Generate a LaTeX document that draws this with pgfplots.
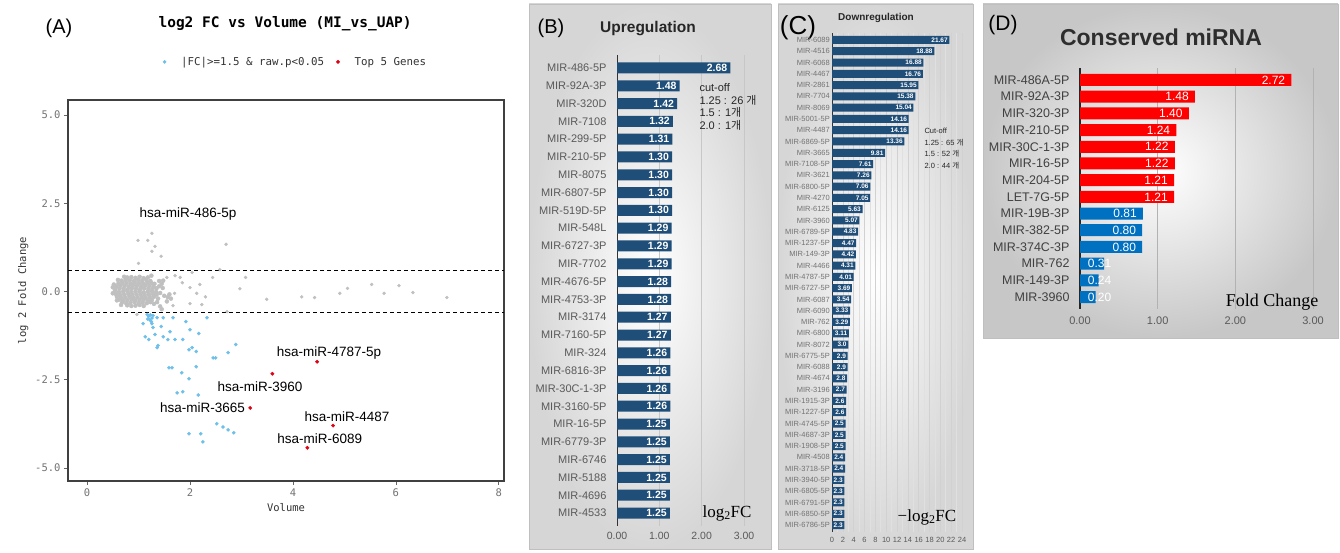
\documentclass[border=0pt]{standalone}
\usepackage{pgfplots}
\pgfplotsset{compat=1.18}
\usepackage{fontspec}
\setmainfont{Liberation Sans}
\newfontfamily\mono{DejaVu Sans Mono}
\newfontfamily\serifr{Liberation Serif}
\newfontfamily\kr{Noto Sans CJK KR}
\newcommand{\fs}[1]{\fontsize{#1}{#1}\selectfont}
\definecolor{ptgray}{RGB}{192,192,192}
\definecolor{ptblue}{RGB}{110,192,235}
\definecolor{ptred}{RGB}{225,0,20}
\definecolor{barblue}{RGB}{31,78,121}
\definecolor{dred}{RGB}{255,0,0}
\definecolor{dblue}{RGB}{0,112,192}
\definecolor{lab}{RGB}{89,89,89}
\begin{document}
\begin{tikzpicture}[x=1pt,y=1pt]
\useasboundingbox (0,0) rectangle (1340,553);
\fill[white] (0,0) rectangle (1340,553);
% panel backgrounds
\shade[inner color=white,outer color=black!16] (529,4) rectangle (771,549);
\draw[black!25] (529,4) rectangle (771,549);
\shade[inner color=white,outer color=black!16] (778,4) rectangle (973,549);
\draw[black!25] (778,4) rectangle (973,549);
\shade[inner color=white,outer color=black!22] (983,215) rectangle (1338,549);
\draw[black!25] (983,215) rectangle (1338,549);

% ================= Panel A =================
\node[font=\fs{20}] at (59,525) {(A)};
\begin{axis}[
  at={(68pt,72pt)}, anchor=south west, scale only axis,
  width=436pt, height=381pt,
  xmin=-0.37, xmax=8.1, ymin=-5.37, ymax=5.43,
  xtick={0,2,4,6,8}, xticklabels={0,2,4,6,8},
  ytick={-5,-2.5,0,2.5,5}, yticklabels={-5.0,-2.5,0.0,2.5,5.0},
  tick pos=left, tick align=outside, major tick length=4pt,
  tick style={black!60, line width=0.8pt},
  axis line style={black!75, line width=1.3pt},
  tick label style={font=\mono\fs{10.5}, text=black!55},
  xlabel={Volume}, ylabel={log 2 Fold Change},
  label style={font=\mono\fs{10.5}, text=black!80},
  title={log2 FC vs Volume (MI\_vs\_UAP)},
  title style={at={(0.498,1.184)}, anchor=center, font=\mono\bfseries\fs{14.5}},
  legend columns=2,
  legend style={at={(0.522,1.10)}, anchor=center, draw=none, fill=none,
    font=\mono\fs{10.8}, text=black!80,
    /tikz/every odd column/.append style={column sep=13pt},
    /tikz/every even column/.append style={column sep=10pt}},
  clip=false,
]
\addplot[only marks, mark=*, mark size=2pt, color=ptgray, mark options={draw=none,fill=ptgray}, forget plot] coordinates {
(0.78,0.40)(0.86,0.41)(0.94,0.39)(1.02,0.42)(1.10,0.38)
(0.67,0.31)(0.75,0.33)(0.83,0.32)(0.91,0.30)(0.99,0.33)(1.07,0.31)(1.15,0.33)(1.23,0.30)
(0.61,0.23)(0.69,0.25)(0.77,0.24)(0.85,0.22)(0.93,0.25)(1.01,0.24)(1.09,0.23)(1.17,0.25)(1.25,0.24)(1.31,0.22)
(0.57,0.15)(0.65,0.17)(0.73,0.16)(0.81,0.14)(0.89,0.17)(0.97,0.16)(1.05,0.15)(1.13,0.17)(1.21,0.16)(1.29,0.14)
(0.55,0.07)(0.63,0.09)(0.71,0.08)(0.79,0.06)(0.87,0.09)(0.95,0.08)(1.03,0.07)(1.11,0.09)(1.19,0.08)(1.27,0.07)(1.35,0.09)
(0.54,0.01)(0.62,-0.01)(0.70,0.00)(0.78,0.02)(0.86,-0.01)(0.94,0.00)(1.02,0.01)(1.10,-0.02)(1.18,0.00)(1.26,0.01)(1.34,-0.01)
(0.56,-0.07)(0.64,-0.09)(0.72,-0.08)(0.80,-0.06)(0.88,-0.09)(0.96,-0.08)(1.04,-0.07)(1.12,-0.09)(1.20,-0.08)(1.28,-0.07)(1.35,-0.09)
(0.58,-0.15)(0.66,-0.17)(0.74,-0.16)(0.82,-0.14)(0.90,-0.17)(0.98,-0.16)(1.06,-0.15)(1.14,-0.17)(1.22,-0.16)(1.30,-0.15)
(0.62,-0.23)(0.70,-0.25)(0.78,-0.24)(0.86,-0.22)(0.94,-0.25)(1.02,-0.24)(1.10,-0.23)(1.18,-0.25)(1.26,-0.24)
(0.68,-0.31)(0.76,-0.33)(0.84,-0.32)(0.92,-0.30)(1.00,-0.33)(1.08,-0.31)(1.16,-0.33)(1.23,-0.30)
(0.78,-0.39)(0.86,-0.41)(0.94,-0.40)(1.02,-0.38)(1.10,-0.41)
(0.50,0.12)(0.50,-0.05)(0.52,0.20)(1.40,0.30)(1.45,0.22)(1.48,0.31)(1.42,-0.04)(1.47,0.10)(1.40,0.15)
(1.50,-0.12)(1.57,-0.16)(1.63,-0.20)(1.55,-0.28)(1.60,-0.08)(1.38,-0.20)(1.36,-0.30)(0.72,0.42)(1.18,0.40)
(1.25,0.45)(0.60,0.33)(0.58,-0.25)(0.66,-0.38)(1.30,-0.35)(1.42,-0.42)(1.45,-0.50)
};
\addplot[only marks, mark=*, mark size=1.5pt, color=ptgray, mark options={draw=none,fill=ptgray}, forget plot] coordinates {
(0.99,1.45)(1.18,1.45)(1.26,1.65)(1.32,1.28)(1.26,1.14)(1.44,1.00)(2.70,1.34)(1.00,0.80)
(1.71,0.45)(1.81,0.40)(2.04,0.54)(2.00,0.11)(2.13,-0.05)(2.19,0.20)(2.44,0.40)(2.58,0.62)
(3.08,0.40)(2.97,0.08)(3.49,-0.22)(4.17,-0.15)(4.42,-0.17)(4.91,-0.05)(5.06,0.09)(5.53,0.20)
(5.77,-0.05)(6.06,0.17)(6.33,-0.03)(6.99,-0.17)(2.00,-0.34)(2.23,-0.37)(1.67,-0.40)(1.48,0.31)
(1.55,0.40)(2.72,-0.57)(0.97,-0.65)(1.70,-0.05)(1.85,0.25)(2.30,-0.15)
};
\addplot[dashed, black, line width=0.9pt, dash pattern=on 4pt off 3pt, forget plot] coordinates {(-0.37,0.585) (8.1,0.585)};
\addplot[dashed, black, line width=0.9pt, dash pattern=on 4pt off 3pt, forget plot] coordinates {(-0.37,-0.585) (8.1,-0.585)};
\addplot[only marks, mark=*, mark size=1.6pt, color=ptblue, mark options={draw=none,fill=ptblue}] coordinates {
(1.17,-0.65)(1.20,-0.70)(1.23,-0.66)(1.26,-0.75)(1.22,-0.80)(1.18,-0.78)(1.28,-0.68)(1.25,-0.85)
(1.09,-0.91)(1.26,-0.91)(1.36,-0.74)(1.48,-0.74)(1.67,-0.74)(1.92,-0.85)(2.33,-0.74)
(1.28,-1.02)(1.44,-0.99)(2.00,-1.08)(2.17,-1.19)(1.61,-1.14)(1.13,-1.28)(1.20,-1.36)(1.32,-1.22)
(1.48,-1.28)(1.57,-1.36)(1.71,-1.36)(1.86,-1.36)(1.38,-1.53)(1.36,-1.59)(1.98,-1.65)(2.04,-1.59)
(2.12,-1.70)(2.45,-1.88)(2.50,-1.88)(2.74,-1.73)(2.89,-1.50)(1.59,-2.16)(1.65,-2.16)(1.84,-2.30)
(2.12,-2.13)(1.98,-2.47)(1.75,-2.87)(1.86,-2.84)(2.16,-2.93)(2.52,-3.75)(2.64,-3.84)(2.74,-3.92)
(2.85,-4.00)(1.98,-4.03)(2.21,-4.03)(2.25,-4.26)
};
\addlegendentry{|FC|>=1.5 \& raw.p<0.05}
\addplot[only marks, mark=*, mark size=1.7pt, color=ptred, mark options={draw=none,fill=ptred}] coordinates {
(4.47,-1.99)(3.60,-2.33)(3.17,-3.30)(4.78,-3.80)(4.28,-4.43)
};
\addlegendentry{Top 5 Genes}
\node[font=\fs{13.5}] at (axis cs:1.96,2.19) {hsa-miR-486-5p};
\node[font=\fs{13.5}] at (axis cs:4.70,-1.73) {hsa-miR-4787-5p};
\node[font=\fs{13.5}] at (axis cs:3.36,-2.70) {hsa-miR-3960};
\node[font=\fs{13.5}, anchor=east, inner sep=1pt] at (axis cs:3.09,-3.30) {hsa-miR-3665};
\node[font=\fs{13.5}] at (axis cs:5.05,-3.55) {hsa-miR-4487};
\node[font=\fs{13.5}] at (axis cs:4.52,-4.18) {hsa-miR-6089};
\end{axis}

% ================= Panel B =================
\node[font=\fs{20}] at (551,525) {(B)};
\node[font=\bfseries\fs{15.5}, text=black!85] at (648,524) {Upregulation};
\begin{axis}[
  at={(617pt,27.5pt)}, anchor=south west, scale only axis,
  width=137.6pt, height=470pt,
  xbar, bar width=11pt,
  xmin=0, xmax=3.25, ymin=-0.7, ymax=25.7, y dir=reverse,
  ytick={0,...,25},
  yticklabels={MIR-486-5P,MIR-92A-3P,MIR-320D,MIR-7108,MIR-299-5P,MIR-210-5P,MIR-8075,MIR-6807-5P,MIR-519D-5P,MIR-548L,MIR-6727-3P,MIR-7702,MIR-4676-5P,MIR-4753-3P,MIR-3174,MIR-7160-5P,MIR-324,MIR-6816-3P,MIR-30C-1-3P,MIR-3160-5P,MIR-16-5P,MIR-6779-3P,MIR-6746,MIR-5188,MIR-4696,MIR-4533},
  xtick={0,1,2,3}, xticklabels={0.00,1.00,2.00,3.00},
  major tick length=0pt,
  axis x line*=bottom, axis y line*=left,
  x axis line style={draw=none},
  y axis line style={black!80, line width=1pt},
  xmajorgrids, grid style={black!22, line width=0.7pt},
  yticklabel style={font=\fs{11}, text=lab, xshift=-7pt},
  xticklabel style={font=\fs{10.5}, text=lab, yshift=-3pt},
  nodes near coords,
  every node near coord/.append style={anchor=east, text=white, font=\bfseries\fs{10.5}, inner sep=1pt, xshift=-2pt},
  /pgf/number format/.cd, fixed, zerofill, precision=2, assume math mode=true,
]
\addplot[fill=barblue, draw=none] coordinates {
(2.68,0)(1.48,1)(1.42,2)(1.32,3)(1.31,4)(1.30,5)(1.30,6)(1.30,7)(1.30,8)(1.29,9)(1.29,10)(1.29,11)(1.28,12)
(1.28,13)(1.27,14)(1.27,15)(1.26,16)(1.26,17)(1.26,18)(1.26,19)(1.25,20)(1.25,21)(1.25,22)(1.25,23)(1.25,24)(1.25,25)
};
\end{axis}
\node[anchor=north west, align=left, font=\fontsize{11}{12.6}\selectfont, text=black!85] at (696,473) {cut-off\\1.25 : 26 {\kr 개}\\1.5 : 1{\kr 개}\\2.0 : 1{\kr 개}};
\node[font=\serifr\fs{17}] at (727,40) {log\textsubscript{2}FC};

% ================= Panel C =================
\node[font=\fs{26}] at (798,525) {(C)};
\node[font=\bfseries\fs{10}, text=black!85] at (876,535) {Downregulation};
\begin{axis}[
  at={(832pt,21.2pt)}, anchor=south west, scale only axis,
  width=132.7pt, height=498.6pt,
  xbar, bar width=8pt,
  xmin=0, xmax=24.5, ymin=-0.6, ymax=43.6, y dir=reverse,
  ytick={0,...,43},
  yticklabels={MIR-6089,MIR-4516,MIR-6068,MIR-4467,MIR-2861,MIR-7704,MIR-8069,MIR-5001-5P,MIR-4487,MIR-6869-5P,MIR-3665,MIR-7108-5P,MIR-3621,MIR-6800-5P,MIR-4270,MIR-6125,MIR-3960,MIR-6789-5P,MIR-1237-5P,MIR-149-3P,MIR-4466,MIR-4787-5P,MIR-6727-5P,MIR-6087,MIR-6090,MIR-762,MIR-6800,MIR-8072,MIR-6775-5P,MIR-6088,MIR-4674,MIR-3196,MIR-1915-3P,MIR-1227-5P,MIR-4745-5P,MIR-4687-3P,MIR-1908-5P,MIR-4508,MIR-3718-5P,MIR-3940-5P,MIR-6805-5P,MIR-6791-5P,MIR-6850-5P,MIR-6786-5P},
  xtick={0,2,...,24}, xticklabels={0,2,4,6,8,10,12,14,16,18,20,22,24},
  minor x tick num=1,
  major tick length=0pt, minor tick length=0pt,
  axis x line*=bottom, axis y line*=left,
  x axis line style={draw=none},
  y axis line style={black!80, line width=0.9pt},
  xmajorgrids, xminorgrids, grid style={black!18, line width=0.6pt},
  minor grid style={black!12, line width=0.6pt},
  yticklabel style={font=\fs{7.5}, text=black!55, inner sep=1pt, xshift=-1pt},
  xticklabel style={font=\fs{7.5}, text=lab, yshift=-2pt},
  point meta=explicit symbolic,
  nodes near coords,
  every node near coord/.append style={anchor=east, text=white, font=\bfseries\fs{6.5}, inner sep=0.5pt, xshift=-1pt},
]
\addplot[fill=barblue, draw=none] table[x=v, y=i, meta=l] {
i v l
0 21.67 21.67
1 18.88 18.88
2 16.88 16.88
3 16.76 16.76
4 15.95 15.95
5 15.38 15.38
6 15.04 15.04
7 14.16 14.16
8 14.16 14.16
9 13.36 13.36
10 9.81 9.81
11 7.61 7.61
12 7.26 7.26
13 7.06 7.06
14 7.05 7.05
15 5.63 5.63
16 5.07 5.07
17 4.83 4.83
18 4.47 4.47
19 4.42 4.42
20 4.31 4.31
21 4.01 4.01
22 3.69 3.69
23 3.54 3.54
24 3.33 3.33
25 3.29 3.29
26 3.11 3.11
27 3.0 3.0
28 2.9 2.9
29 2.9 2.9
30 2.8 2.8
31 2.7 2.7
32 2.6 2.6
33 2.6 2.6
34 2.5 2.5
35 2.5 2.5
36 2.5 2.5
37 2.4 2.4
38 2.4 2.4
39 2.3 2.3
40 2.3 2.3
41 2.3 2.3
42 2.3 2.3
43 2.3 2.3
};
\end{axis}
\node[anchor=north west, align=left, font=\fontsize{7.5}{11.5}\selectfont, text=black!85] at (921,428) {Cut-off\\1.25 : 65 {\kr 개}\\1.5 : 52 {\kr 개}\\2.0 : 44 {\kr 개}};
\node[font=\serifr\fs{17}] at (927,36) {\textminus log\textsubscript{2}FC};

% ================= Panel D =================
\node[font=\fs{21}] at (1003,528) {(D)};
\node[font=\bfseries\fs{23}, text=black!82] at (1161,516) {Conserved miRNA};
\begin{axis}[
  at={(1080pt,244.3pt)}, anchor=south west, scale only axis,
  width=248.6pt, height=240.4pt,
  xbar, bar width=12pt,
  xmin=0, xmax=3.2, ymin=-0.7, ymax=13.7, y dir=reverse,
  ytick={0,...,13},
  yticklabels={MIR-486A-5P,MIR-92A-3P,MIR-320-3P,MIR-210-5P,MIR-30C-1-3P,MIR-16-5P,MIR-204-5P,LET-7G-5P,MIR-19B-3P,MIR-382-5P,MIR-374C-3P,MIR-762,MIR-149-3P,MIR-3960},
  xtick={0,1,2,3}, xticklabels={0.00,1.00,2.00,3.00},
  major tick length=0pt,
  axis x line*=bottom, axis y line*=left,
  x axis line style={draw=none},
  y axis line style={black!85, line width=1.1pt},
  xmajorgrids, grid style={black!30, line width=0.7pt},
  yticklabel style={font=\fs{12.5}, text=black!75, xshift=-7pt},
  xticklabel style={font=\fs{11}, text=lab, yshift=-5pt},
  every axis plot/.append style={bar shift=0pt},
  every node near coord/.append style={anchor=east, text=white, font=\fs{12}, inner sep=1pt, xshift=-5pt},
  /pgf/number format/.cd, fixed, zerofill, precision=2, assume math mode=true,
]
\addplot[fill=dred, draw=none, nodes near coords] coordinates {
(2.72,0)(1.48,1)(1.40,2)(1.24,3)(1.22,4)(1.22,5)(1.21,6)(1.21,7)
};
\addplot[fill=dblue, draw=none, nodes near coords] coordinates {
(0.81,8)(0.80,9)(0.80,10)
};
\addplot[fill=dblue, draw=none] coordinates {
(0.31,11)(0.24,12)(0.20,13)
};
\node[anchor=west, text=white, font=\fs{12}, inner sep=0pt] at (axis cs:0.1,11) {0.31};
\node[anchor=west, text=white, font=\fs{12}, inner sep=0pt] at (axis cs:0.1,12) {0.24};
\node[anchor=west, text=white, font=\fs{12}, inner sep=0pt] at (axis cs:0.1,13) {0.20};
\end{axis}
\node[font=\serifr\fs{18}] at (1272,251) {Fold Change};
\end{tikzpicture}
\end{document}
